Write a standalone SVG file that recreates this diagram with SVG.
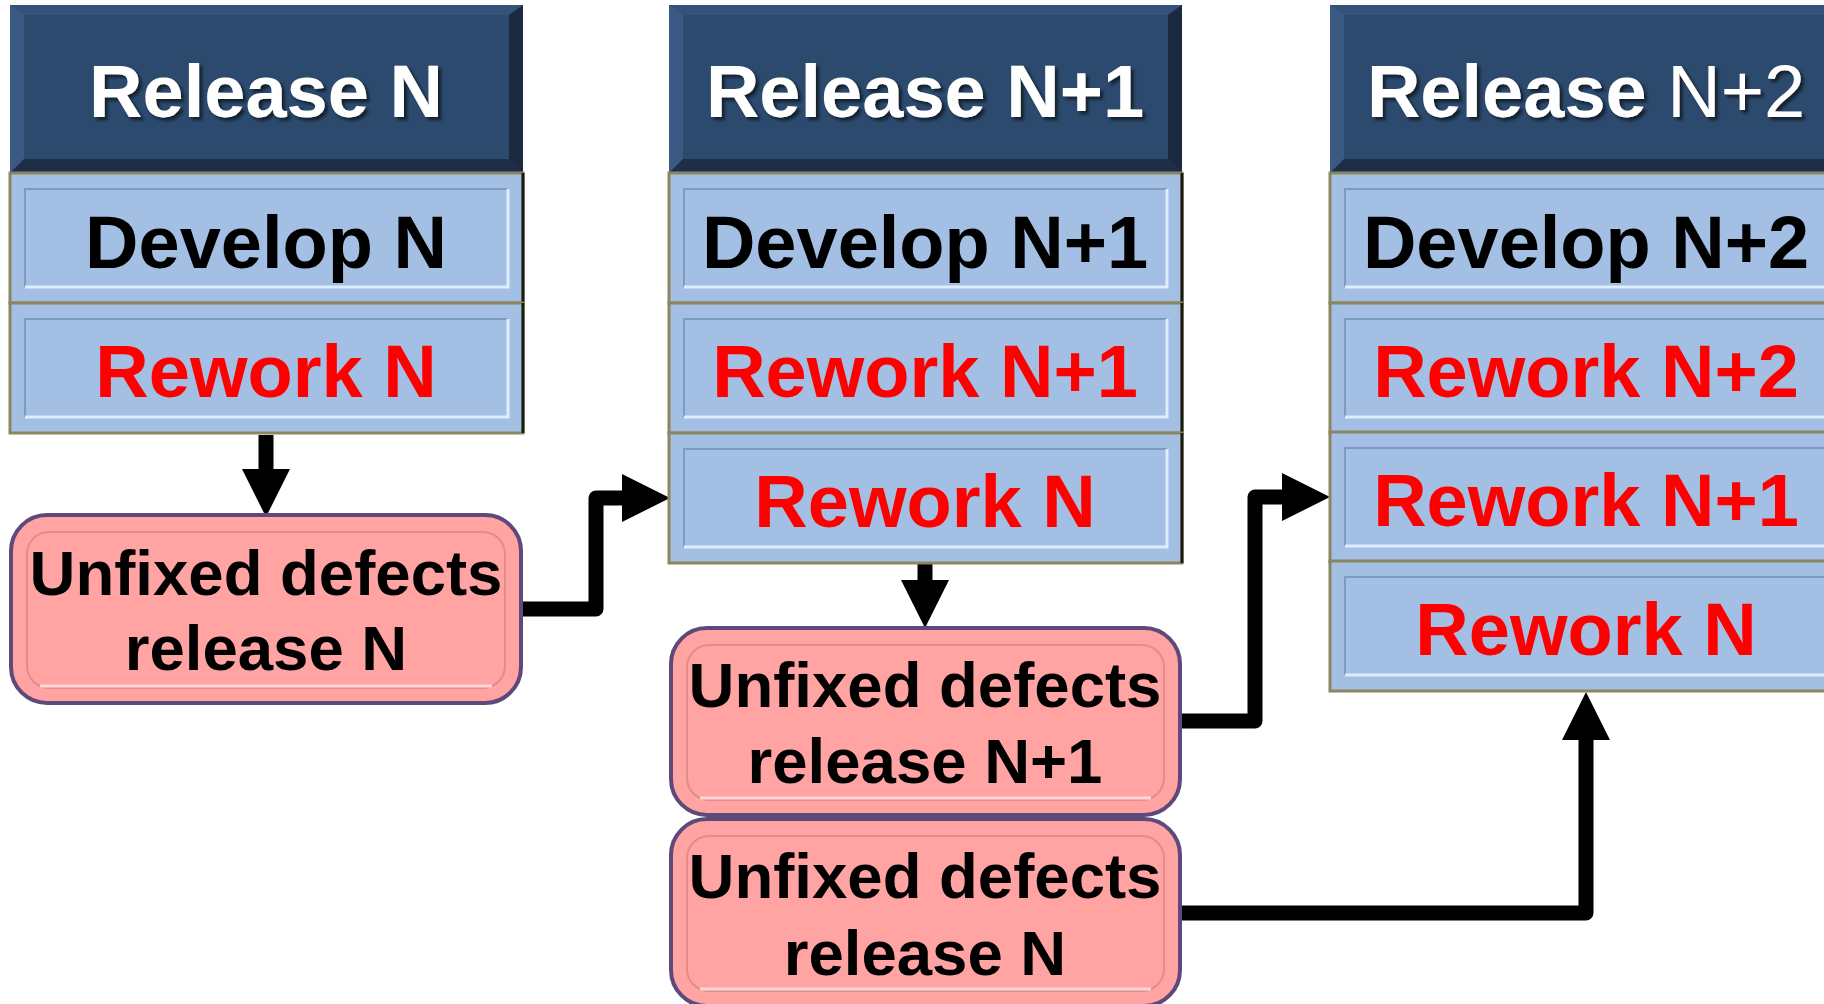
<svg xmlns="http://www.w3.org/2000/svg" width="1824" height="1004" viewBox="0 0 1824 1004">
<style>
text{font-family:"Liberation Sans",Arial,sans-serif;font-weight:bold;text-anchor:middle}
.hd{fill:#ffffff;font-size:74px}
.dv{fill:#000000;font-size:74px}
.rw{fill:#ff0000;font-size:74px}
.uf{fill:#000000;font-size:63.5px}
.face{fill:#2C4A6E}
.bt{fill:#34527A}
.bl{fill:#3A5A84}
.bb{fill:#1F2E47}
.br{fill:#1B2940}
.band{fill:#A3BFE3;stroke:#8C8660;stroke-width:3}
.redge{stroke:#1a1a10;stroke-width:3}
.in-t{stroke:#7D9AC0;stroke-width:2;fill:none}
.in-b{stroke:#DDEEFF;stroke-width:3;fill:none}
.pink{fill:#FFA3A3;stroke:#5E4A7A;stroke-width:4}
.pin{fill:none;stroke:#E28C8C;stroke-width:2}
.pinb{fill:none;stroke:#FFD6D6;stroke-width:3}
.conn{fill:none;stroke:#000;stroke-width:15;stroke-linejoin:round}
</style>
<defs>
<filter id="sh" x="-10%" y="-10%" width="130%" height="140%">
<feDropShadow dx="3" dy="3" stdDeviation="1.5" flood-color="#0a1220" flood-opacity="0.85"/>
</filter>
<marker id="ah" markerUnits="userSpaceOnUse" viewBox="0 0 48 48" markerWidth="48" markerHeight="48" refX="1" refY="24" orient="auto">
<path d="M0,0 L48,24 L0,48 Z" fill="#000"/>
</marker>
<g id="hdr">
<rect x="0" y="5" width="513" height="168" class="face"/>
<polygon points="0,5 513,5 499,15 14,15" class="bt"/>
<polygon points="0,5 14,15 14,159 0,173" class="bl"/>
<polygon points="0,173 14,159 499,159 513,173" class="bb"/>
<polygon points="513,5 513,173 499,159 499,15" class="br"/>
</g>
<g id="bnd">
<rect x="0" y="0" width="513" height="130" class="band"/>
<line x1="513" y1="0" x2="513" y2="130" class="redge"/>
<path d="M15,114 V16 H498" class="in-t"/>
<path d="M15,114 H498 V16" class="in-b"/>
</g>
</defs>

<g id="connectors">
<path class="conn" d="M266,435 V470" marker-end="url(#ah)"/>
<path class="conn" d="M521,609 H596 V498 H623" marker-end="url(#ah)"/>
<path class="conn" d="M925,563 V581" marker-end="url(#ah)"/>
<path class="conn" d="M1180,721 H1255 V497 H1283" marker-end="url(#ah)"/>
<path class="conn" d="M1180,913 H1586 V739" marker-end="url(#ah)"/>
</g>

<g id="release-n">
<use href="#hdr" x="10"/>
<text x="266" y="117" class="hd" filter="url(#sh)">Release N</text>
</g>
<g id="develop-n">
<use href="#bnd" x="10" y="173"/>
<text x="266" y="268" class="dv">Develop N</text>
</g>
<g id="rework-n-1">
<use href="#bnd" x="10" y="303"/>
<text x="266" y="397" class="rw">Rework N</text>
</g>

<g id="release-n1">
<use href="#hdr" x="669"/>
<text x="925" y="117" class="hd" filter="url(#sh)">Release N+1</text>
</g>
<g id="develop-n1">
<use href="#bnd" x="669" y="173"/>
<text x="925" y="268" class="dv">Develop N+1</text>
</g>
<g id="rework-n1-2">
<use href="#bnd" x="669" y="303"/>
<text x="925" y="397" class="rw">Rework N+1</text>
</g>
<g id="rework-n-2">
<use href="#bnd" x="669" y="433"/>
<text x="925" y="527" class="rw">Rework N</text>
</g>

<g id="release-n2">
<use href="#hdr" x="1330"/>
<text x="1586" y="117" class="hd" filter="url(#sh)">Release <tspan font-weight="normal">N+2</tspan></text>
</g>
<g id="develop-n2">
<use href="#bnd" x="1330" y="173"/>
<text x="1586" y="268" class="dv">Develop N+2</text>
</g>
<g id="rework-n2-3">
<use href="#bnd" x="1330" y="303"/>
<text x="1586" y="397" class="rw">Rework N+2</text>
</g>
<g id="rework-n1-3">
<use href="#bnd" x="1330" y="432"/>
<text x="1586" y="526" class="rw">Rework N+1</text>
</g>
<g id="rework-n-3">
<use href="#bnd" x="1330" y="561"/>
<text x="1586" y="655" class="rw">Rework N</text>
</g>

<g id="unfixed-n-1">
<rect x="11" y="515" width="510" height="188" rx="36" class="pink"/>
<rect x="27" y="532" width="478" height="156" rx="22" class="pin"/>
<path d="M40,686 H492" class="pinb"/>
<text x="266" y="595" class="uf">Unfixed defects</text>
<text x="266" y="670" class="uf">release N</text>
</g>
<g id="unfixed-n1-2">
<rect x="671" y="628" width="509" height="187" rx="36" class="pink"/>
<rect x="687" y="645" width="477" height="155" rx="22" class="pin"/>
<path d="M700,798 H1151" class="pinb"/>
<text x="925" y="707" class="uf">Unfixed defects</text>
<text x="925" y="783" class="uf">release N+1</text>
</g>
<g id="unfixed-n-2">
<rect x="671" y="819" width="509" height="187" rx="36" class="pink"/>
<rect x="687" y="836" width="477" height="155" rx="22" class="pin"/>
<path d="M700,989 H1151" class="pinb"/>
<text x="925" y="898" class="uf">Unfixed defects</text>
<text x="925" y="975" class="uf">release N</text>
</g>
</svg>
